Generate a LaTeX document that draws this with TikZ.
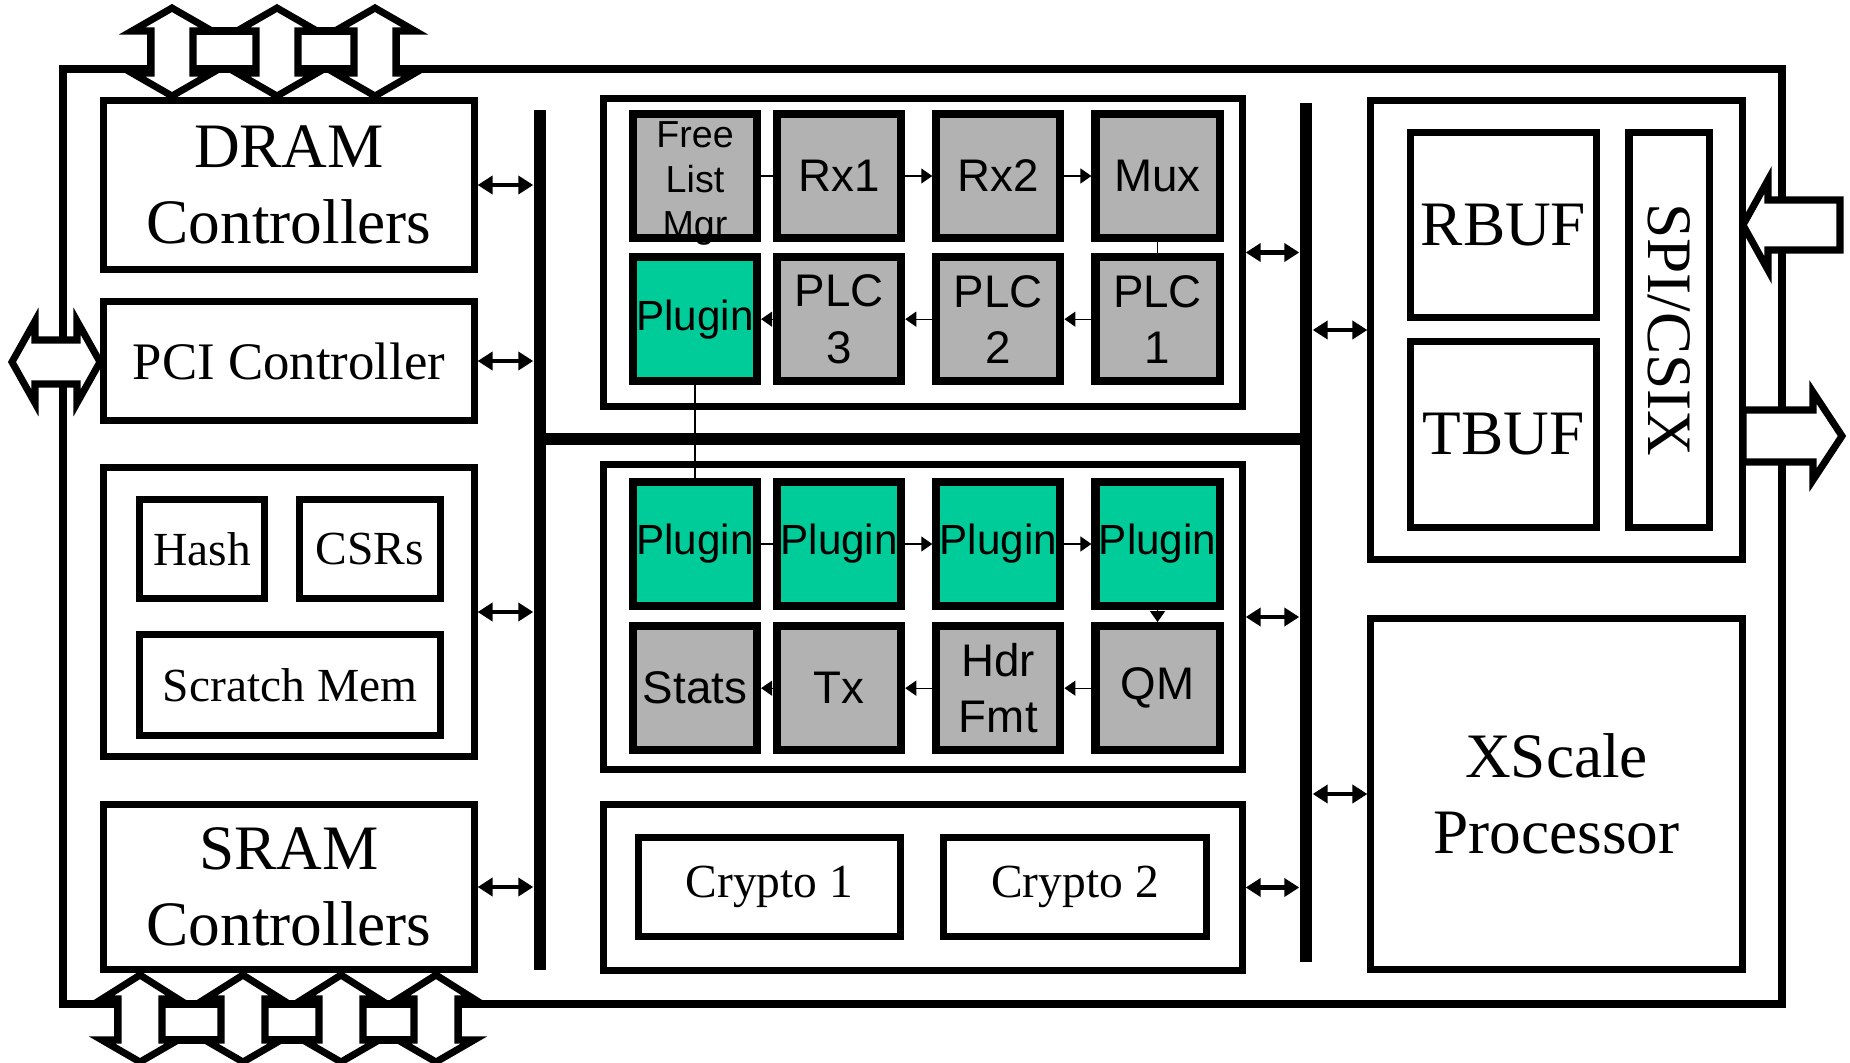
\documentclass[tikz,border=0pt]{standalone}
\usepackage{fontspec}
\setmainfont{Liberation Serif}
\newfontfamily\cellfont{Liberation Sans}
\usetikzlibrary{arrows.meta,positioning}
\definecolor{megray}{RGB}{178,178,178}
\definecolor{megreen}{RGB}{0,204,153}
\tikzset{
  chipframe/.style = {
    line width=2pt
  },
  blockarrow/.style = {
    draw,
    fill=white,
    line width=2pt
  },
  unitbox/.style = {
    rectangle,
    draw,
    fill=white,
    line width=2pt,
    inner sep=0pt,
    align=center,
    font=\fontsize{18pt}{21.5pt}\selectfont
  },
  smallunit/.style = {
    unitbox,
    font=\fontsize{13.5pt}{16pt}\selectfont
  },
  mecell/.style = {
    rectangle,
    draw,
    line width=2.3pt,
    inner sep=0pt,
    align=center,
    minimum width=1.24cm,
    minimum height=1.24cm,
    font=\cellfont\fontsize{13pt}{16pt}\selectfont
  },
  fixedme/.style = {
    mecell,
    fill=megray
  },
  plugme/.style = {
    mecell,
    fill=megreen,
    font=\cellfont\fontsize{12pt}{14pt}\selectfont
  },
  bus/.style = {
    rectangle,
    fill=black,
    inner sep=0pt,
    minimum width=0.12cm
  },
  busarrow/.style = {
    {Triangle[length=1.5mm,width=1.8mm]}-{Triangle[length=1.5mm,width=1.8mm]},
    line width=1.15pt
  },
  flow/.style = {
    -{Triangle[length=1.1mm,width=1.5mm]},
    line width=0.35pt
  },
  cellink/.style = {
    line width=0.35pt
  }
}

\begin{document}
\begin{tikzpicture}[x=0.01cm,y=-0.01cm]
    \useasboundingbox (0,0) rectangle (1850,1063);
    % chip outline
    \draw[chipframe] (63,69) rectangle (1782,1004);
    % memory channels, top and bottom
    \draw[blockarrow] (151,31) rectangle (396,69);
    \foreach \cx in {172,277,375} {
      \draw[blockarrow] (\cx,8) -- ++(40,23) -- ++(-19,0) -- ++(0,42) -- ++(19,0)
        -- (\cx,96) -- ++(-40,-23) -- ++(19,0) -- ++(0,-42) -- ++(-19,0) -- cycle;
    }
    \draw[blockarrow] (118,1004) rectangle (458,1040);
    \foreach \cx in {140,243,341,436} {
      \draw[blockarrow] (\cx,975) -- ++(38,24) -- ++(-16,0) -- ++(0,41) -- ++(16,0)
        -- (\cx,1062) -- ++(-38,-22) -- ++(16,0) -- ++(0,-41) -- ++(-16,0) -- cycle;
    }
    % PCI port
    \draw[blockarrow] (12,362) -- (35,321) -- (35,340) -- (77,340) -- (77,321) -- (100,362)
      -- (77,403) -- (77,384) -- (35,384) -- (35,403) -- cycle;

    % left column
    \node[unitbox, minimum width=3.70cm, minimum height=1.68cm] (dram) at (289,185) {DRAM\\Controllers};
    \node[unitbox, minimum width=3.70cm, minimum height=1.18cm, font=\fontsize{15pt}{18pt}\selectfont] (pci) at (289,361) {PCI Controller};
    \node[unitbox, minimum width=3.70cm, minimum height=2.89cm] (mem) at (289,612) {};
    \node[smallunit, minimum width=1.25cm, minimum height=0.99cm] (hash) at (202,549) {Hash};
    \node[smallunit, minimum width=1.41cm, minimum height=0.99cm] (csr) at (370,549) {CSRs};
    \node[smallunit, minimum width=3.01cm, minimum height=1.00cm] (scratch) at (290,685) {Scratch Mem};
    \node[unitbox, minimum width=3.70cm, minimum height=1.65cm] (sram) at (289,887) {SRAM\\Controllers};

    % microengine clusters and crypto
    \node[unitbox, minimum width=6.38cm, minimum height=3.07cm] (meup) at (923,252.5) {};
    \node[unitbox, minimum width=6.38cm, minimum height=3.04cm] (melow) at (923,617) {};
    \node[unitbox, minimum width=6.38cm, minimum height=1.65cm] (crypto) at (923,887.5) {};
    \node[smallunit, minimum width=2.62cm, minimum height=0.99cm] (cryptoa) at (769.5,887) {Crypto 1};
    \node[smallunit, minimum width=2.63cm, minimum height=0.99cm] (cryptob) at (1075,887) {Crypto 2};

    % right column
    \node[unitbox, minimum width=3.71cm, minimum height=4.58cm] (io) at (1556.5,330) {};
    \node[unitbox, minimum width=1.85cm, minimum height=1.84cm] (rbuf) at (1503.5,225) {RBUF};
    \node[unitbox, minimum width=1.85cm, minimum height=1.85cm] (tbuf) at (1503.5,434.5) {TBUF};
    \node[unitbox, rotate=-90, minimum width=3.94cm, minimum height=0.80cm] (spi) at (1669,330) {SPI/CSIX};
    \node[unitbox, minimum width=3.71cm, minimum height=3.50cm] (xscale) at (1556.5,794) {XScale\\Processor};

    % SPI/CSIX ports
    \draw[blockarrow] (1743,225) -- (1768,180) -- (1768,200) -- (1840,200) -- (1840,250)
      -- (1768,250) -- (1768,270) -- cycle;
    \draw[blockarrow] (1743,410) -- (1813,410) -- (1813,392) -- (1842,436) -- (1813,480)
      -- (1813,462) -- (1743,462) -- cycle;

    % buses
    \node[bus, minimum height=8.60cm] (lbus) at (540,540) {};
    \node[bus, minimum height=8.59cm] (rbus) at (1306,532.5) {};
    \node[bus, minimum width=7.66cm, minimum height=0.12cm] (hbus) at (923,439) {};
    \draw[busarrow] (dram.east) -- (dram.east -| lbus.west);
    \draw[busarrow] (pci.east) -- (pci.east -| lbus.west);
    \draw[busarrow] (mem.east) -- (mem.east -| lbus.west);
    \draw[busarrow] (sram.east) -- (sram.east -| lbus.west);
    \draw[busarrow] (meup.east) -- (meup.east -| rbus.west);
    \draw[busarrow] (melow.east) -- (melow.east -| rbus.west);
    \draw[busarrow] (crypto.east) -- (crypto.east -| rbus.west);
    \draw[busarrow] (rbus.east |- io.west) -- (io.west);
    \draw[busarrow] (rbus.east |- xscale.west) -- (xscale.west);

    % receive side microengines
    \node[fixedme, font=\cellfont\fontsize{10.7pt}{12.8pt}\selectfont, text height=35pt, text depth=0pt] (flm) at (695,176) {Free\\List\\Mgr};
    \node[fixedme, right=0.12cm of flm] (rx1) {Rx1};
    \node[fixedme, right=0.27cm of rx1] (rx2) {Rx2};
    \node[fixedme, right=0.27cm of rx2] (mux) {Mux};
    \node[plugme, below=0.11cm of flm] (plga) {Plugin};
    \node[fixedme, below=0.11cm of rx1] (plc3) {PLC\\3};
    \node[fixedme, below=0.11cm of rx2] (plc2) {PLC\\2};
    \node[fixedme, below=0.11cm of mux] (plc1) {PLC\\1};

    % transmit side microengines
    \node[plugme] (plgb) at (695,544) {Plugin};
    \node[plugme, right=0.12cm of plgb] (plgc) {Plugin};
    \node[plugme, right=0.27cm of plgc] (plgd) {Plugin};
    \node[plugme, right=0.27cm of plgd] (plge) {Plugin};
    \node[fixedme, below=0.12cm of plgb] (stats) {Stats};
    \node[fixedme, below=0.12cm of plgc] (tx) {Tx};
    \node[fixedme, below=0.12cm of plgd] (hdr) {Hdr\\Fmt};
    \node[fixedme, below=0.12cm of plge] (qm) {QM};

    \draw[cellink] (flm) -- (rx1);
    \draw[flow] (rx1) -- (rx2);
    \draw[flow] (rx2) -- (mux);
    \draw[cellink] (mux) -- (plc1);
    \draw[flow] (plc1) -- (plc2);
    \draw[flow] (plc2) -- (plc3);
    \draw[flow] (plc3) -- (plga);
    \draw[cellink] (plga) -- (plgb);
    \draw[cellink] (plgb) -- (plgc);
    \draw[flow] (plgc) -- (plgd);
    \draw[flow] (plgd) -- (plge);
    \draw[flow] (plge) -- (qm);
    \draw[flow] (qm) -- (hdr);
    \draw[flow] (hdr) -- (tx);
    \draw[flow] (tx) -- (stats);
\end{tikzpicture}
\end{document}
